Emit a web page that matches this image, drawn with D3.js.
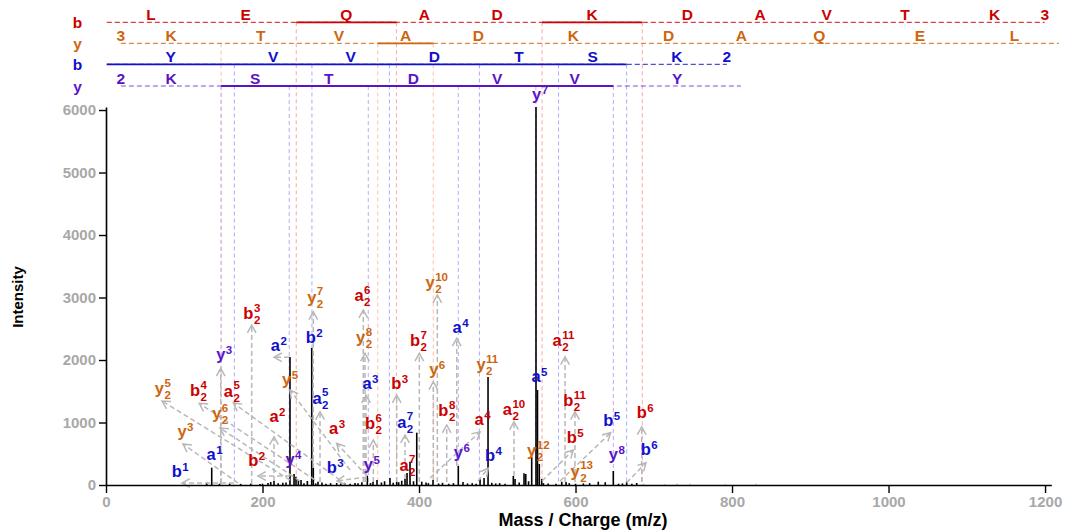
<!DOCTYPE html>
<html><head><meta charset="utf-8">
<script src="https://cdn.jsdelivr.net/npm/d3@7"></script>
<style>
body{margin:0;background:#fff;}
svg{display:block;font-family:"Liberation Sans",Arial,Helvetica,sans-serif;}
</style>
</head><body>
<svg id="chart" width="1074" height="532"></svg>
<script>
// ---------------- DATA ----------------
const peakMz  = [128.7,135.1,145,158,172,185,196.8,200,207.0,210.5,214.7,220,226,230,235.1,240.3,242.8,245.8,249.2,253,257.3,262.9,264.9,268,270.9,276,281,287,294.8,300,305,312,318.2,322,327,333.9,338,341.2,346.3,352,356,362.9,367,371.5,374,377.9,382.1,384.7,388.5,393,397.1,403.5,409,412,417.9,425,430,438,444,450.2,456.2,462,468,473,478.0,483.1,488.2,493,498,503,510,520.5,522.7,528,534.2,536.4,540,544.0,549.5,551.4,553.7,556.8,559,565,575,582.4,587.9,592,600,610,618,629.1,638,648.3,655,660,665.4,672,678.2];
const peakInt = [37,277,20,25,18,22,16,20,32,48,64,28,35,40,2048,176,133,80,80,30,64,2192,272,25,53,40,22,30,32,24,35,20,32,28,45,149,30,53,80,40,60,112,35,53,45,69,96,192,373,60,837,53,40,30,80,25,35,20,30,304,48,25,30,20,91,112,1728,35,25,30,20,144,96,40,187,176,60,453,6048,1520,336,96,30,25,20,53,48,30,20,25,30,53,45,224,20,25,53,20,32];
const faintMz  = [687,714,730,746,791,831];
const faintInt = [22,18,25,20,18,22];

const xTicks = [0,200,400,600,800,1000,1200];
const yTicks = [0,1000,2000,3000,4000,5000,6000];

// fragment ladders (cleavage positions in m/z, residues, observed segments)
const rowIon     = ["b","y","b","y"];
const rowColor   = ["#cc0000","#cc6610","#1010cc","#5a14c8"];
const rowGuide   = ["#ffadad","#ffc6ad","#b0b4ff","#c9b0f2"];
const rowCharge  = ["3","3","2","2"];
const rowChargeAtEnd = [true,false,true,false];
const cuts1 = [1.01,114.09,243.13,371.19,442.23,557.26,685.35,800.38,871.42,970.49,1071.53,1199.63];
const res1  = ["L","E","Q","A","D","K","D","A","V","T","K"];
const cuts2 = [19.02,147.11,248.16,347.23,418.27,533.30,661.39,776.42,847.46,975.52,1104.56,1217.64];
const res2  = ["K","T","V","A","D","K","D","A","Q","E","L"];
const cuts3 = [1.01,164.07,263.14,362.21,477.24,578.28,665.31,793.41];
const res3  = ["Y","V","V","D","T","S","K"];
const cuts4 = [19.02,147.11,234.14,335.19,450.22,549.29,648.36,811.42];
const res4  = ["K","S","T","D","V","V","Y"];
const solid1 = [[243.13,371.19],[557.26,685.35]];
const solid2 = [[347.23,418.27]];
const solid3 = [[1.01,665.31]];
const solid4 = [[147.11,648.36]];
const seen1 = [243.13,371.19,557.26,685.35];
const seen2 = [147.11,347.23,418.27];
const seen3 = [164.07,263.14,362.21,477.24,578.28,665.31];
const seen4 = [147.11,234.14,335.19,450.22,549.29,648.36];

// peak annotations: ion, charge subscript, number, colour key, label (m/z, int), arrow tip, arrow tail
const annotations = [
 ["b","","1","B",90.4,128,97.1,32,163.6,32],
 ["a","","1","B",134.4,400],
 ["y","","3","O",97.1,773,98.4,656,168.7,32],
 ["y","2","5","O",68.1,1456,71.6,1344,235.1,80],
 ["b","2","4","R",113.7,1424,119.2,1307,267.1,80],
 ["a","2","5","R",156.3,1413,162.7,1312,299.0,80],
 ["y","2","6","O",141.5,1051,145.7,912,247.9,64],
 ["y","","3","P",146.6,2000,146.6,1867,146.6,16],
 ["b","2","3","R",181.9,2651,186.2,2560,186.2,16],
 ["a","","2","R",214.7,1013,214.7,773,214.7,64],
 ["b","","2","R",188.2,304,194.2,144,235.1,144],
 ["y","","4","P",235.1,320],
 ["a","","2","B",216.4,2144,214.7,2043,233.9,2043],
 ["y","","5","O",230.9,1600,235.1,1520,311.8,240],
 ["b","","2","B",261.6,2277],
 ["y","2","7","O",262.9,2917,264.9,2773,264.9,272],
 ["a","2","5","B",269.6,1304,273.5,1173,273.5,48],
 ["a","","3","R",291.0,811,294.8,667,333.5,144],
 ["b","","3","B",288.4,197,295.2,64,333.5,128],
 ["y","","5","P",335.2,240],
 ["a","2","6","R",323.3,2944,328.8,2800,328.8,48],
 ["y","2","8","O",325.5,2267,331.0,2107,331.0,48],
 ["a","","3","B",333.5,1531,332.3,1440,332.3,48],
 ["b","2","6","R",337.4,891,341.6,720,341.6,48],
 ["b","","3","R",371.0,1531,371.5,1440,371.5,48],
 ["a","2","7","B",377.9,917,382.1,800,382.1,96],
 ["a","2","7","R",380.8,229],
 ["b","2","7","R",394.9,2224,400.4,2107,400.4,48],
 ["y","","6","O",418.8,1760,418.3,1653,418.3,80],
 ["y","2","10","O",414.1,3147,423.4,3040,423.4,48],
 ["b","2","8","R",431.1,1104,435.4,960,435.4,48],
 ["a","","4","B",448.6,2437,448.2,2347,448.2,304],
 ["y","","6","P",450.2,437],
 ["a","","4","R",476.7,960,478.0,853,414.1,112],
 ["y","2","11","O",479.2,1840],
 ["b","","4","B",490.7,384,488.5,267,475.4,64],
 ["a","2","10","R",512.8,1120,521.4,1013,521.4,144],
 ["a","","5","B",549.5,1653],
 ["y","","7","P",550.4,6160],
 ["y","2","12","O",544.0,464],
 ["a","2","11","R",576.4,2224,586.6,2053,586.6,48],
 ["b","2","11","R",590.8,1264,599.3,1173,599.3,48],
 ["b","","5","R",595.1,667,597.2,560,557.2,64],
 ["y","2","13","O",599.4,133],
 ["b","","5","B",641.9,944,645.0,837,580.2,64],
 ["y","","8","P",648.3,400],
 ["b","","6","R",684.6,1067,684.6,933,684.6,48],
 ["b","","6","B",689.7,480,690.1,357,665.4,37]
];
const colorKey = {R:"#cc0000", O:"#cc6610", B:"#1010cc", P:"#5a14c8"};

// ---------------- DRAW ----------------
const svg = d3.select("#chart");
const x = d3.scaleLinear().domain([0,1208]).range([106,1051.3]);
const y = d3.scaleLinear().domain([0,6050]).range([485,106.9]);

const rowY = [22.3,43.4,64.4,86];
const rows = [
  {cuts:cuts1,res:res1,solid:solid1,seen:seen1},
  {cuts:cuts2,res:res2,solid:solid2,seen:seen2},
  {cuts:cuts3,res:res3,solid:solid3,seen:seen3},
  {cuts:cuts4,res:res4,solid:solid4,seen:seen4}
];
const guideG = svg.append("g");
rows.forEach((r,i)=>{
  guideG.selectAll(null).data(r.seen).join("line")
    .attr("x1",d=>x(d)).attr("x2",d=>x(d))
    .attr("y1",rowY[i]).attr("y2",y(0))
    .attr("stroke",rowGuide[i]).attr("stroke-width",1.1)
    .attr("stroke-dasharray","4,3");
});

const ladG = svg.append("g").attr("font-weight","bold");
rows.forEach((r,i)=>{
  const c = rowColor[i];
  const first = r.cuts[0], last = r.cuts[r.cuts.length-1];
  ladG.append("line").attr("x1",x(first)).attr("x2",x(last))
    .attr("y1",rowY[i]).attr("y2",rowY[i])
    .attr("stroke",c).attr("stroke-opacity",0.75).attr("stroke-width",1.2).attr("stroke-dasharray","5,3");
  r.solid.forEach(s=>{
    ladG.append("line").attr("x1",x(s[0])).attr("x2",x(s[1]))
      .attr("y1",rowY[i]).attr("y2",rowY[i]).attr("stroke",c).attr("stroke-width",1.8);
  });
  ladG.selectAll(null).data(r.res).join("text")
    .attr("x",(d,k)=>x((r.cuts[k]+r.cuts[k+1])/2)).attr("y",rowY[i]-2)
    .attr("text-anchor","middle").attr("font-size",15.5).attr("fill",c).text(d=>d);
  ladG.append("text").attr("x", x(rowChargeAtEnd[i]? last : first)).attr("y",rowY[i]-2)
    .attr("text-anchor","middle").attr("font-size",15.5).attr("fill",c).text(rowCharge[i]);
  ladG.append("text").attr("x",77.5).attr("y",rowY[i]).attr("dy","0.36em")
    .attr("text-anchor","middle").attr("font-size",15.5).attr("fill",c).text(rowIon[i]);
});

const pkG = svg.append("g");
pkG.selectAll(null).data(faintMz).join("line")
  .attr("x1",d=>x(d)).attr("x2",d=>x(d)).attr("y1",y(0)).attr("y2",(d,i)=>y(faintInt[i]))
  .attr("stroke","#c8c8c8").attr("stroke-width",1.4);
pkG.selectAll(null).data(peakMz).join("line")
  .attr("x1",d=>x(d)).attr("x2",d=>x(d)).attr("y1",y(0)).attr("y2",(d,i)=>y(peakInt[i]))
  .attr("stroke","#000").attr("stroke-width",1.6);

const arG = svg.append("g").attr("stroke","#b8b8b8").attr("fill","none").attr("stroke-width",1.5);
annotations.filter(a=>a.length>6).forEach(a=>{
  const tx=x(a[6]), ty=y(a[7]), sx=x(a[8]), sy=y(a[9]);
  arG.append("line").attr("x1",sx).attr("y1",sy).attr("x2",tx).attr("y2",ty).attr("stroke-dasharray","5,3");
  const ang = Math.atan2(ty-sy, tx-sx);
  const L = 9, h = 0.5;
  const p1=[tx-L*Math.cos(ang-h), ty-L*Math.sin(ang-h)];
  const p2=[tx-L*Math.cos(ang+h), ty-L*Math.sin(ang+h)];
  arG.append("path").attr("d",`M${p1[0]},${p1[1]}L${tx},${ty}L${p2[0]},${p2[1]}`);
});

const lbG = svg.append("g").attr("font-weight","bold");
annotations.forEach(a=>{
  const col = colorKey[a[3]];
  const lx = x(a[4]), ly = y(a[5]);
  const t = lbG.append("text").attr("x",lx).attr("y",ly).attr("text-anchor","middle")
    .attr("font-size",16.5).attr("fill",col).text(a[0]);
  const w = t.node().getComputedTextLength();
  const sx = lx + w/2 + 0.5;
  if (a[2]) lbG.append("text").attr("x",sx).attr("y",ly-(a[1]?7.5:6)).attr("font-size",11.5).attr("fill",col).text(a[2]);
  if (a[1]) lbG.append("text").attr("x",sx).attr("y",ly+5).attr("font-size",11.5).attr("fill",col).text(a[1]);
});

const xAxis = svg.append("g").attr("transform",`translate(0,${y(0)})`)
  .call(d3.axisBottom(x).tickValues(xTicks).tickSize(8).tickPadding(3).tickSizeOuter(0).tickFormat(d3.format("d")));
const yAxis = svg.append("g").attr("transform",`translate(${x(0)},0)`)
  .call(d3.axisLeft(y).tickValues(yTicks).tickSize(7).tickPadding(3).tickSizeOuter(0).tickFormat(d3.format("d")));
[xAxis,yAxis].forEach(g=>{
  g.select(".domain").attr("stroke","#000").attr("stroke-width",1.6);
  g.selectAll(".tick line").attr("stroke","#000").attr("stroke-width",1.4);
  g.selectAll(".tick text").attr("fill","#a8a8a8").attr("font-size",15).attr("font-weight","bold")
    .attr("font-family","Liberation Sans, Arial, sans-serif");
});

svg.append("text").attr("x",583).attr("y",526).attr("text-anchor","middle")
  .attr("font-size",18).attr("font-weight","bold").text("Mass / Charge (m/z)");
svg.append("text").attr("transform","translate(23,297) rotate(-90)").attr("text-anchor","middle")
  .attr("font-size",15).attr("font-weight","bold")
  .attr("font-family","Liberation Sans Narrow, Liberation Sans, Arial, sans-serif").text("Intensity");
</script>
</body></html>
